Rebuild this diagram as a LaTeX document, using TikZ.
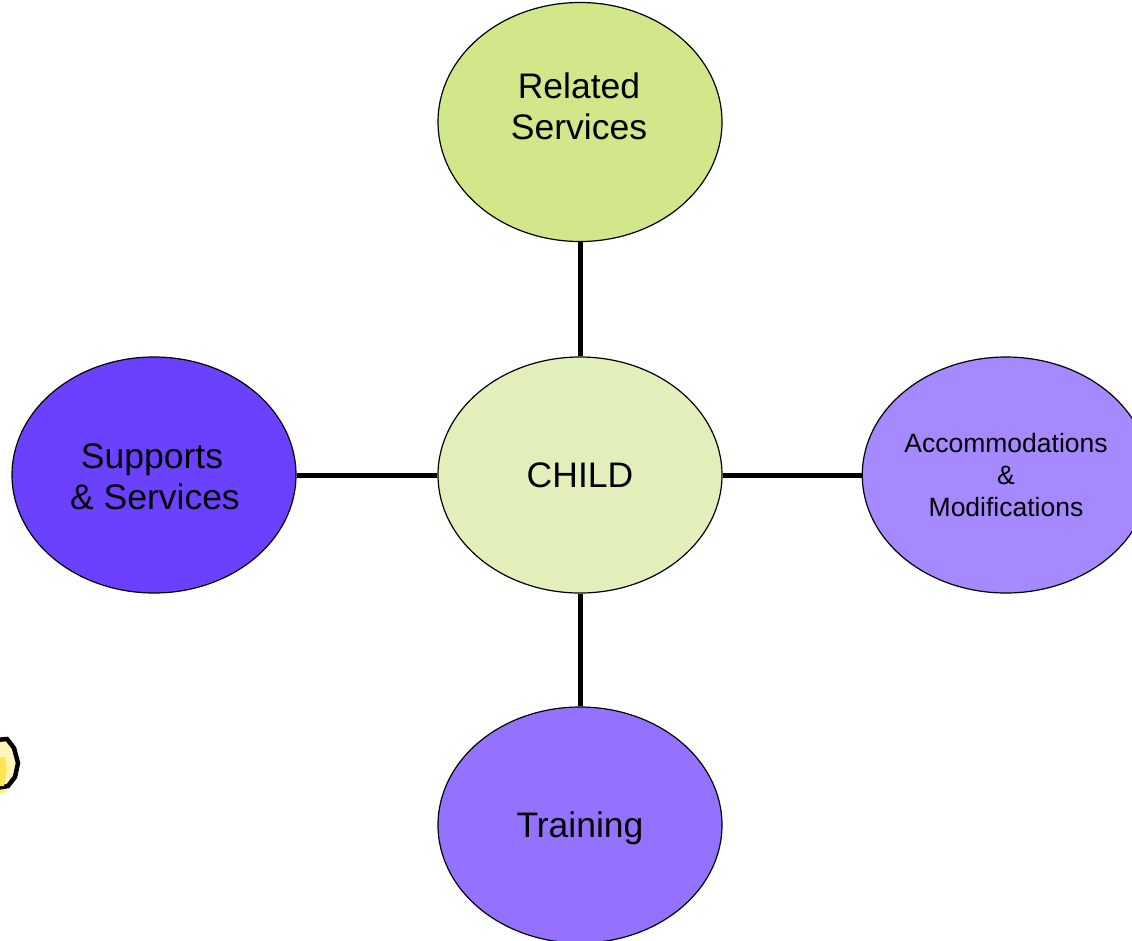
\documentclass[tikz,border=0pt]{standalone}
\usepackage{fontspec}
\setmainfont{Liberation Sans}
\usetikzlibrary{shapes.geometric}
\definecolor{relgreen}{HTML}{D2E68A}
\definecolor{childgreen}{HTML}{E3EFBA}
\definecolor{suppurple}{HTML}{6C40FF}
\definecolor{accpurple}{HTML}{A688FF}
\definecolor{trainpurple}{HTML}{9471FF}
\definecolor{badgeyellow}{HTML}{FFE650}
\tikzset{
  bubble/.style={ellipse, draw=black, line width=1.2pt, inner sep=0pt,
    minimum width=284pt, minimum height=236pt, align=center},
  bigtext/.style={font=\fontsize{35.5}{41}\selectfont, align=center},
  smalltext/.style={font=\fontsize{26.5}{32}\selectfont, align=center},
  link/.style={line width=5pt, draw=black}
}
\begin{document}
\begin{tikzpicture}[x=1pt,y=-1pt]
\useasboundingbox (0,0) rectangle (1132,940);
\clip (0,0) rectangle (1132,940);
\fill[white] (0,0) rectangle (1132,940);
% badge fragment at left edge
\fill[badgeyellow!70] (-4,752) -- (4,750) -- (9,760) -- (10,778) -- (6,792) -- (-4,794) -- cycle;
\draw[line width=4.5pt, black, fill=white!60!badgeyellow, line join=miter]
  (-4,740) -- (7,739) -- (14,748) -- (18,763) -- (15,777) -- (8,786) -- (-4,788);
\fill[badgeyellow] (-4,757) -- (5,757) -- (7,770) -- (4,786) -- (-4,786) -- cycle;
% bubbles
\node[bubble, fill=relgreen, minimum height=239pt] (rel) at (580,122) {};
\node[bigtext] (reltext) at (579,106) {Related\\Services};
\node[bubble, fill=childgreen, bigtext] (child) at (580,475) {CHILD};
\node[bubble, fill=suppurple, bigtext] (sup) at (154,475) {};
\node[bigtext] (suptext) at (152,477) {Supports\\\,\& Services};
\node[bubble, fill=accpurple, smalltext] (acc) at (1006,475) {Accommodations\\\&\\Modifications};
\node[bubble, fill=trainpurple] (train) at (580,825) {};
\node[bigtext] (traintext) at (580,828) {Training};
% connectors
\draw[link] (rel.south) -- (child.north);
\draw[link] (child.south) -- (train.north);
\draw[link] (sup.east) -- (child.west);
\draw[link] (child.east) -- (acc.west);
\end{tikzpicture}
\end{document}
